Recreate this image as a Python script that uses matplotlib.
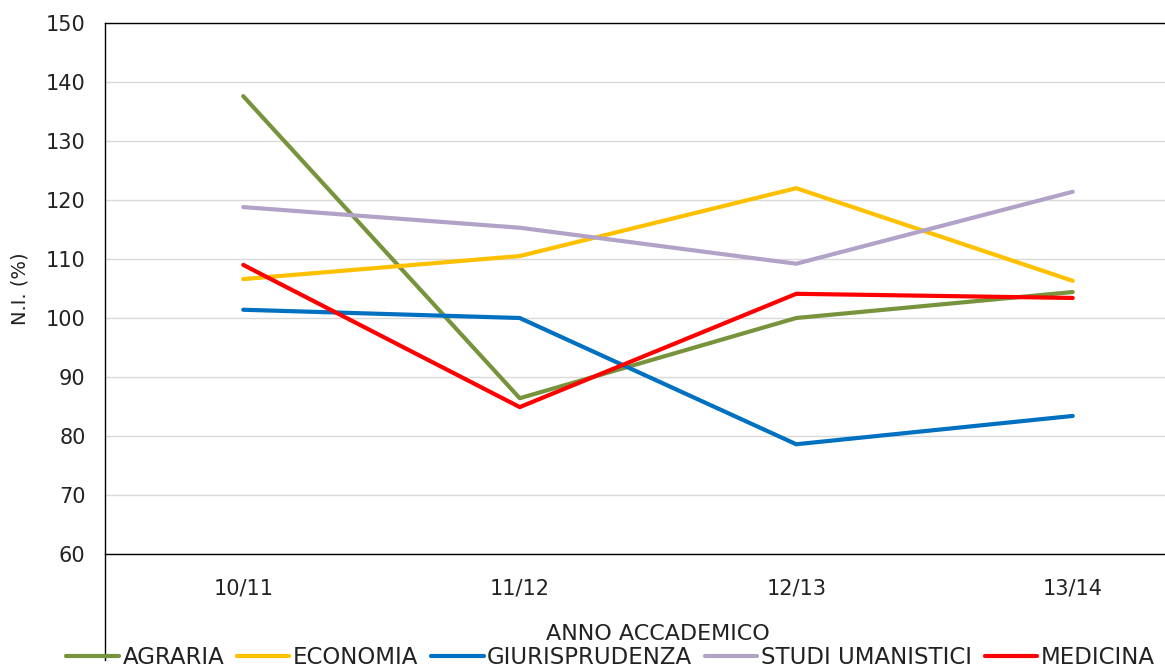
import matplotlib
matplotlib.use("Agg")
import matplotlib.pyplot as plt

years = ["10/11", "11/12", "12/13", "13/14"]
agraria = [137.6, 86.4, 100.0, 104.4]
economia = [106.6, 110.5, 122.0, 106.3]
giurisprudenza = [101.4, 100.0, 78.6, 83.4]
studi_umanistici = [118.8, 115.3, 109.2, 121.4]
medicina = [109.0, 84.9, 104.1, 103.4]

series = [
    ("AGRARIA", agraria, "#77933C"),
    ("ECONOMIA", economia, "#FFC000"),
    ("GIURISPRUDENZA", giurisprudenza, "#0070C0"),
    ("STUDI UMANISTICI", studi_umanistici, "#B3A2C7"),
    ("MEDICINA", medicina, "#FF0000"),
]

plt.rcParams["font.family"] = ["DejaVu Sans"]

W, H = 1165, 671
fig = plt.figure(figsize=(W / 100, H / 100), dpi=100)
# plot area runs past the right edge of the picture, as in the source
ax = fig.add_axes([105 / W, (H - 554) / H, 1106 / W, 531 / H])

x = range(len(years))
for name, vals, col in series:
    ax.plot(x, vals, color=col, lw=3, label=name, solid_capstyle="round")

ax.set_xlim(-0.5, 3.5)
ax.set_ylim(60, 150)
ax.set_yticks(range(60, 151, 10))
ax.set_xticks(list(x))
ax.set_xticklabels(years)
ax.tick_params(length=0, labelsize=15, colors="#222222")
ax.tick_params(axis="y", pad=14)
ax.tick_params(axis="x", pad=18)
ax.grid(axis="y", color="#d9d9d9", lw=1)
ax.set_axisbelow(True)
for s in ["left", "top", "bottom"]:
    ax.spines[s].set_color("black")
    ax.spines[s].set_linewidth(1)
ax.spines["right"].set_visible(False)
ax.spines["left"].set_bounds(42, 150)

ax.set_xlabel("ANNO ACCADEMICO", fontsize=16, labelpad=18, color="#222222")
ax.set_ylabel("N.I. (%)", fontsize=14, labelpad=12, color="#222222")

fig.legend(loc="center", bbox_to_anchor=(0.524, 0.02), ncol=5, frameon=False,
           fontsize=16.5, handlelength=2.3, handletextpad=0.15, columnspacing=0.55,
           labelcolor="#222222")

fig.savefig("out.png", dpi=100)
